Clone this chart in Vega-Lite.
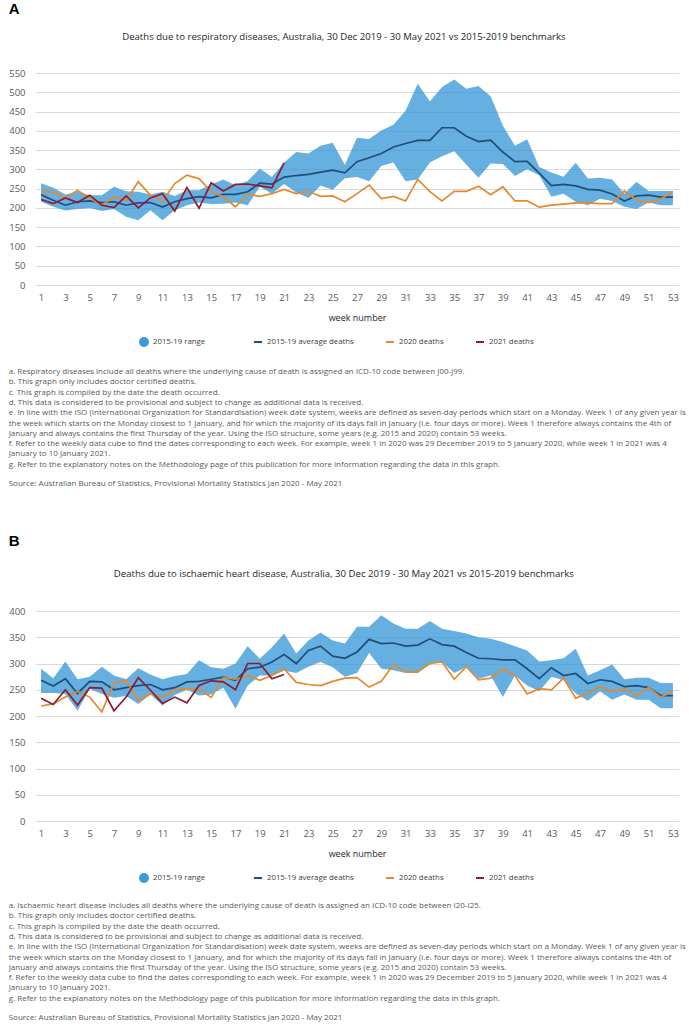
{
  "$schema": "https://vega.github.io/schema/vega-lite/v6.json",
  "padding": {"left": 8, "top": 2, "right": 0, "bottom": 0},
  "background": "white",
  "spacing": 46,
  "resolve": {"scale": {"fill": "independent", "stroke": "independent"}, "legend": {"fill": "independent", "stroke": "independent"}},
  "datasets": {
    "A": [
      {"week":1,"lo":216,"hi":264,"avg":234,"y2020":242,"y2021":222},
      {"week":2,"lo":203,"hi":252,"avg":220,"y2020":241,"y2021":211},
      {"week":3,"lo":193,"hi":235,"avg":207,"y2020":226,"y2021":226},
      {"week":4,"lo":197,"hi":242,"avg":216,"y2020":245,"y2021":214},
      {"week":5,"lo":200,"hi":233,"avg":218,"y2020":226,"y2021":233},
      {"week":6,"lo":192,"hi":233,"avg":214,"y2020":207,"y2021":207},
      {"week":7,"lo":197,"hi":255,"avg":216,"y2020":229,"y2021":201},
      {"week":8,"lo":177,"hi":243,"avg":207,"y2020":220,"y2021":231},
      {"week":9,"lo":168,"hi":242,"avg":213,"y2020":268,"y2021":200},
      {"week":10,"lo":194,"hi":235,"avg":214,"y2020":233,"y2021":226},
      {"week":11,"lo":168,"hi":242,"avg":202,"y2020":218,"y2021":237},
      {"week":12,"lo":194,"hi":231,"avg":216,"y2020":263,"y2021":192},
      {"week":13,"lo":207,"hi":246,"avg":224,"y2020":285,"y2021":253},
      {"week":14,"lo":214,"hi":246,"avg":229,"y2020":276,"y2021":199},
      {"week":15,"lo":210,"hi":261,"avg":226,"y2020":242,"y2021":265},
      {"week":16,"lo":211,"hi":274,"avg":235,"y2020":229,"y2021":244},
      {"week":17,"lo":214,"hi":259,"avg":235,"y2020":203,"y2021":261},
      {"week":18,"lo":207,"hi":270,"avg":242,"y2020":235,"y2021":262},
      {"week":19,"lo":255,"hi":302,"avg":264,"y2020":230,"y2021":257},
      {"week":20,"lo":237,"hi":280,"avg":262,"y2020":237,"y2021":252},
      {"week":21,"lo":262,"hi":318,"avg":280,"y2020":248,"y2021":317},
      {"week":22,"lo":240,"hi":345,"avg":284,"y2020":237},
      {"week":23,"lo":226,"hi":341,"avg":287,"y2020":243},
      {"week":24,"lo":258,"hi":361,"avg":293,"y2020":230},
      {"week":25,"lo":247,"hi":369,"avg":298,"y2020":231},
      {"week":26,"lo":277,"hi":312,"avg":291,"y2020":216},
      {"week":27,"lo":280,"hi":382,"avg":320,"y2020":237},
      {"week":28,"lo":269,"hi":379,"avg":330,"y2020":259},
      {"week":29,"lo":309,"hi":401,"avg":341,"y2020":224},
      {"week":30,"lo":318,"hi":416,"avg":358,"y2020":230},
      {"week":31,"lo":269,"hi":453,"avg":367,"y2020":218},
      {"week":32,"lo":274,"hi":522,"avg":375,"y2020":274},
      {"week":33,"lo":318,"hi":476,"avg":375,"y2020":242},
      {"week":34,"lo":334,"hi":514,"avg":408,"y2020":218},
      {"week":35,"lo":347,"hi":533,"avg":408,"y2020":243},
      {"week":36,"lo":312,"hi":509,"avg":386,"y2020":243},
      {"week":37,"lo":278,"hi":516,"avg":372,"y2020":256},
      {"week":38,"lo":315,"hi":490,"avg":376,"y2020":234},
      {"week":39,"lo":314,"hi":414,"avg":345,"y2020":255},
      {"week":40,"lo":283,"hi":361,"avg":320,"y2020":218},
      {"week":41,"lo":300,"hi":378,"avg":321,"y2020":218},
      {"week":42,"lo":285,"hi":306,"avg":290,"y2020":202},
      {"week":43,"lo":229,"hi":292,"avg":258,"y2020":207},
      {"week":44,"lo":237,"hi":281,"avg":261,"y2020":210},
      {"week":45,"lo":216,"hi":317,"avg":257,"y2020":213},
      {"week":46,"lo":207,"hi":276,"avg":248,"y2020":213},
      {"week":47,"lo":224,"hi":278,"avg":246,"y2020":211},
      {"week":48,"lo":218,"hi":274,"avg":236,"y2020":211},
      {"week":49,"lo":203,"hi":237,"avg":218,"y2020":244},
      {"week":50,"lo":197,"hi":268,"avg":231,"y2020":221},
      {"week":51,"lo":214,"hi":244,"avg":233,"y2020":214},
      {"week":52,"lo":207,"hi":244,"avg":228,"y2020":223},
      {"week":53,"lo":207,"hi":244,"avg":228,"y2020":242}
    ],
    "B": [
      {"week":1,"lo":244,"hi":290,"avg":268,"y2020":219,"y2021":234},
      {"week":2,"lo":244,"hi":272,"avg":257,"y2020":223,"y2021":222},
      {"week":3,"lo":242,"hi":304,"avg":271,"y2020":236,"y2021":250},
      {"week":4,"lo":210,"hi":270,"avg":243,"y2020":247,"y2021":221},
      {"week":5,"lo":252,"hi":275,"avg":266,"y2020":236,"y2021":254},
      {"week":6,"lo":242,"hi":294,"avg":265,"y2020":208,"y2021":253},
      {"week":7,"lo":235,"hi":277,"avg":250,"y2020":263,"y2021":210},
      {"week":8,"lo":238,"hi":270,"avg":254,"y2020":268,"y2021":236},
      {"week":9,"lo":223,"hi":291,"avg":258,"y2020":229,"y2021":273},
      {"week":10,"lo":241,"hi":279,"avg":260,"y2020":242,"y2021":249},
      {"week":11,"lo":220,"hi":270,"avg":250,"y2020":236,"y2021":224},
      {"week":12,"lo":240,"hi":276,"avg":254,"y2020":250,"y2021":236},
      {"week":13,"lo":250,"hi":280,"avg":265,"y2020":252,"y2021":225},
      {"week":14,"lo":239,"hi":306,"avg":266,"y2020":252,"y2021":258},
      {"week":15,"lo":241,"hi":293,"avg":270,"y2020":235,"y2021":267},
      {"week":16,"lo":254,"hi":290,"avg":274,"y2020":273,"y2021":265},
      {"week":17,"lo":214,"hi":300,"avg":268,"y2020":270,"y2021":250},
      {"week":18,"lo":258,"hi":333,"avg":290,"y2020":277,"y2021":300},
      {"week":19,"lo":277,"hi":309,"avg":293,"y2020":268,"y2021":300},
      {"week":20,"lo":277,"hi":331,"avg":303,"y2020":277,"y2021":271},
      {"week":21,"lo":286,"hi":357,"avg":317,"y2020":290,"y2021":279},
      {"week":22,"lo":282,"hi":319,"avg":300,"y2020":264},
      {"week":23,"lo":294,"hi":344,"avg":325,"y2020":260},
      {"week":24,"lo":303,"hi":359,"avg":333,"y2020":258},
      {"week":25,"lo":293,"hi":344,"avg":314,"y2020":266},
      {"week":26,"lo":275,"hi":338,"avg":310,"y2020":272},
      {"week":27,"lo":282,"hi":370,"avg":322,"y2020":273},
      {"week":28,"lo":320,"hi":370,"avg":346,"y2020":255},
      {"week":29,"lo":290,"hi":392,"avg":338,"y2020":266},
      {"week":30,"lo":287,"hi":376,"avg":339,"y2020":298},
      {"week":31,"lo":282,"hi":366,"avg":333,"y2020":284},
      {"week":32,"lo":282,"hi":366,"avg":335,"y2020":284},
      {"week":33,"lo":298,"hi":381,"avg":347,"y2020":301},
      {"week":34,"lo":303,"hi":366,"avg":336,"y2020":303},
      {"week":35,"lo":282,"hi":362,"avg":333,"y2020":270},
      {"week":36,"lo":293,"hi":357,"avg":321,"y2020":294},
      {"week":37,"lo":271,"hi":350,"avg":310,"y2020":269},
      {"week":38,"lo":277,"hi":347,"avg":309,"y2020":272},
      {"week":39,"lo":236,"hi":341,"avg":307,"y2020":290},
      {"week":40,"lo":277,"hi":333,"avg":307,"y2020":277},
      {"week":41,"lo":258,"hi":325,"avg":290,"y2020":242},
      {"week":42,"lo":247,"hi":304,"avg":271,"y2020":252},
      {"week":43,"lo":275,"hi":306,"avg":292,"y2020":250},
      {"week":44,"lo":268,"hi":310,"avg":277,"y2020":272},
      {"week":45,"lo":243,"hi":328,"avg":281,"y2020":234},
      {"week":46,"lo":229,"hi":277,"avg":262,"y2020":243},
      {"week":47,"lo":247,"hi":287,"avg":269,"y2020":256},
      {"week":48,"lo":231,"hi":298,"avg":266,"y2020":247},
      {"week":49,"lo":241,"hi":270,"avg":256,"y2020":251},
      {"week":50,"lo":231,"hi":273,"avg":258,"y2020":239},
      {"week":51,"lo":231,"hi":273,"avg":254,"y2020":254},
      {"week":52,"lo":215,"hi":263,"avg":239,"y2020":236},
      {"week":53,"lo":215,"hi":263,"avg":239,"y2020":247}
    ]
  },
  "vconcat": [
    {
      "title": {"text": "A", "anchor": "start", "frame": "bounds", "font": "Liberation Sans", "fontSize": 15, "fontWeight": "bold", "color": "#000000", "offset": 15},
      "resolve": {"scale": {"fill": "independent", "stroke": "independent"}, "legend": {"fill": "independent", "stroke": "independent"}},
      "vconcat": [
        {
          "title": {
            "text": [
              "a. Respiratory diseases include all deaths where the underlying cause of death is assigned an ICD-10 code between J00-J99.",
              "b. This graph only includes doctor certified deaths.",
              "c. This graph is compiled by the date the death occurred.",
              "d. This data is considered to be provisional and subject to change as additional data is received.",
              "e. In line with the ISO (International Organization for Standardisation) week date system, weeks are defined as seven-day periods which start on a Monday. Week 1 of any given year is",
              "the week which starts on the Monday closest to 1 January, and for which the majority of its days fall in January (i.e. four days or more). Week 1 therefore always contains the 4th of",
              "January and always contains the first Thursday of the year. Using the ISO structure, some years (e.g. 2015 and 2020) contain 53 weeks.",
              "f. Refer to the weekly data cube to find the dates corresponding to each week. For example, week 1 in 2020 was 29 December 2019 to 5 January 2020, while week 1 in 2021 was 4",
              "January to 10 January 2021.",
              "g. Refer to the explanatory notes on the Methodology page of this publication for more information regarding the data in this graph."
            ],
            "subtitle": "Source: Australian Bureau of Statistics, Provisional Mortality Statistics Jan 2020 - May 2021",
            "orient": "bottom", "anchor": "start", "frame": "bounds", "font": "Open Sans", "fontSize": 8, "lineHeight": 10.3, "fontWeight": "normal", "color": "#595959", "offset": 21,
            "subtitleFont": "Open Sans", "subtitleFontSize": 8, "subtitleColor": "#595959", "subtitlePadding": 11, "subtitleLineHeight": 10.3
          },
          "resolve": {"scale": {"fill": "independent", "stroke": "independent"}, "legend": {"fill": "independent", "stroke": "independent"}},
          "vconcat": [
            {
              "title": {"text": "Deaths due to respiratory diseases, Australia, 30 Dec 2019 - 30 May 2021 vs 2015-2019 benchmarks", "anchor": "middle", "frame": "bounds", "font": "Open Sans", "fontSize": 9.6, "fontWeight": "normal", "color": "#262626", "offset": 26},
              "width": 644,
              "height": 212,
              "data": {"name": "A"},
              "layer": [
                {
                  "mark": {"type": "area", "opacity": 0.78},
                  "encoding": {
                    "x": {"field": "week", "type": "quantitative", "scale": {"domain": [0.5, 53.5], "nice": false, "zero": false},
                      "axis": {"values": [1,3,5,7,9,11,13,15,17,19,21,23,25,27,29,31,33,35,37,39,41,43,45,47,49,51,53], "tickCount": 100, "format": "d", "labelOverlap": false, "grid": false, "ticks": false, "domain": false, "labelPadding": 7, "title": "week number", "titlePadding": 12}},
                    "y": {"field": "lo", "type": "quantitative", "scale": {"domain": [0, 550], "nice": false},
                      "axis": {"values": [0,50,100,150,200,250,300,350,400,450,500,550], "tickCount": 100, "labelOverlap": false, "title": null, "ticks": false, "domain": false, "labelPadding": 10, "grid": true}},
                    "y2": {"field": "hi"},
                    "fill": {"datum": "2015-19 range", "type": "nominal",
                      "scale": {"domain": ["2015-19 range"], "range": ["#3a9ad8"]},
                      "legend": {"orient": "none", "legendX": 104, "legendY": 264, "direction": "horizontal", "title": null, "symbolType": "circle", "symbolSize": 100, "symbolOpacity": 1, "symbolStrokeWidth": 0}}
                  }
                },
                {
                  "transform": [{"fold": ["avg", "y2020", "y2021"], "as": ["series", "deaths"]}],
                  "mark": {"type": "line", "strokeWidth": 1.7},
                  "encoding": {
                    "x": {"field": "week", "type": "quantitative"},
                    "y": {"field": "deaths", "type": "quantitative"},
                    "stroke": {"field": "series", "type": "nominal",
                      "scale": {"domain": ["avg", "y2020", "y2021"], "range": ["#1f4e79", "#e5892c", "#8e1b30"]},
                      "legend": {"orient": "none", "legendX": 218, "legendY": 264, "direction": "horizontal", "title": null, "columnPadding": 28, "symbolType": "stroke", "symbolSize": 64, "symbolStrokeWidth": 2,
                        "labelExpr": "datum.value === 'avg' ? '2015-19 average deaths' : datum.value === 'y2020' ? '2020 deaths' : '2021 deaths'"}}
                  }
                }
              ]
            }
          ]
        }
      ]
    },
    {
      "title": {"text": "B", "anchor": "start", "frame": "bounds", "font": "Liberation Sans", "fontSize": 15, "fontWeight": "bold", "color": "#000000", "offset": 20},
      "resolve": {"scale": {"fill": "independent", "stroke": "independent"}, "legend": {"fill": "independent", "stroke": "independent"}},
      "vconcat": [
        {
          "title": {
            "text": [
              "a. Ischaemic heart disease includes all deaths where the underlying cause of death is assigned an ICD-10 code between I20-I25.",
              "b. This graph only includes doctor certified deaths.",
              "c. This graph is compiled by the date the death occurred.",
              "d. This data is considered to be provisional and subject to change as additional data is received.",
              "e. In line with the ISO (International Organization for Standardisation) week date system, weeks are defined as seven-day periods which start on a Monday. Week 1 of any given year is",
              "the week which starts on the Monday closest to 1 January, and for which the majority of its days fall in January (i.e. four days or more). Week 1 therefore always contains the 4th of",
              "January and always contains the first Thursday of the year. Using the ISO structure, some years (e.g. 2015 and 2020) contain 53 weeks.",
              "f. Refer to the weekly data cube to find the dates corresponding to each week. For example, week 1 in 2020 was 29 December 2019 to 5 January 2020, while week 1 in 2021 was 4",
              "January to 10 January 2021.",
              "g. Refer to the explanatory notes on the Methodology page of this publication for more information regarding the data in this graph."
            ],
            "subtitle": "Source: Australian Bureau of Statistics, Provisional Mortality Statistics Jan 2020 - May 2021",
            "orient": "bottom", "anchor": "start", "frame": "bounds", "font": "Open Sans", "fontSize": 8, "lineHeight": 10.3, "fontWeight": "normal", "color": "#595959", "offset": 19,
            "subtitleFont": "Open Sans", "subtitleFontSize": 8, "subtitleColor": "#595959", "subtitlePadding": 11, "subtitleLineHeight": 10.3
          },
          "resolve": {"scale": {"fill": "independent", "stroke": "independent"}, "legend": {"fill": "independent", "stroke": "independent"}},
          "vconcat": [
            {
              "title": {"text": "Deaths due to ischaemic heart disease, Australia, 30 Dec 2019 - 30 May 2021 vs 2015-2019 benchmarks", "anchor": "middle", "frame": "bounds", "font": "Open Sans", "fontSize": 9.6, "fontWeight": "normal", "color": "#262626", "offset": 27},
              "width": 644,
              "height": 210,
              "data": {"name": "B"},
              "layer": [
                {
                  "mark": {"type": "area", "opacity": 0.78},
                  "encoding": {
                    "x": {"field": "week", "type": "quantitative", "scale": {"domain": [0.5, 53.5], "nice": false, "zero": false},
                      "axis": {"values": [1,3,5,7,9,11,13,15,17,19,21,23,25,27,29,31,33,35,37,39,41,43,45,47,49,51,53], "tickCount": 100, "format": "d", "labelOverlap": false, "grid": false, "ticks": false, "domain": false, "labelPadding": 7, "title": "week number", "titlePadding": 12}},
                    "y": {"field": "lo", "type": "quantitative", "scale": {"domain": [0, 400], "nice": false},
                      "axis": {"values": [0,50,100,150,200,250,300,350,400], "tickCount": 100, "labelOverlap": false, "title": null, "ticks": false, "domain": false, "labelPadding": 10, "grid": true}},
                    "y2": {"field": "hi"},
                    "fill": {"datum": "2015-19 range", "type": "nominal",
                      "scale": {"domain": ["2015-19 range"], "range": ["#3a9ad8"]},
                      "legend": {"orient": "none", "legendX": 104, "legendY": 262, "direction": "horizontal", "title": null, "symbolType": "circle", "symbolSize": 100, "symbolOpacity": 1, "symbolStrokeWidth": 0}}
                  }
                },
                {
                  "transform": [{"fold": ["avg", "y2020", "y2021"], "as": ["series", "deaths"]}],
                  "mark": {"type": "line", "strokeWidth": 1.7},
                  "encoding": {
                    "x": {"field": "week", "type": "quantitative"},
                    "y": {"field": "deaths", "type": "quantitative"},
                    "stroke": {"field": "series", "type": "nominal",
                      "scale": {"domain": ["avg", "y2020", "y2021"], "range": ["#1f4e79", "#e5892c", "#8e1b30"]},
                      "legend": {"orient": "none", "legendX": 218, "legendY": 262, "direction": "horizontal", "title": null, "columnPadding": 28, "symbolType": "stroke", "symbolSize": 64, "symbolStrokeWidth": 2,
                        "labelExpr": "datum.value === 'avg' ? '2015-19 average deaths' : datum.value === 'y2020' ? '2020 deaths' : '2021 deaths'"}}
                  }
                }
              ]
            }
          ]
        }
      ]
    }
  ],
  "config": {
    "font": "Open Sans",
    "view": {"stroke": null},
    "axis": {"labelFont": "Open Sans", "labelFontSize": 9.5, "labelColor": "#595959", "titleFont": "Open Sans", "titleFontSize": 9, "titleFontWeight": "normal", "titleColor": "#262626", "gridColor": "#d9d9d9", "gridWidth": 1},
    "legend": {"labelFont": "Open Sans", "labelFontSize": 7.8, "labelColor": "#404040", "labelOffset": 4, "labelLimit": 200}
  }
}
